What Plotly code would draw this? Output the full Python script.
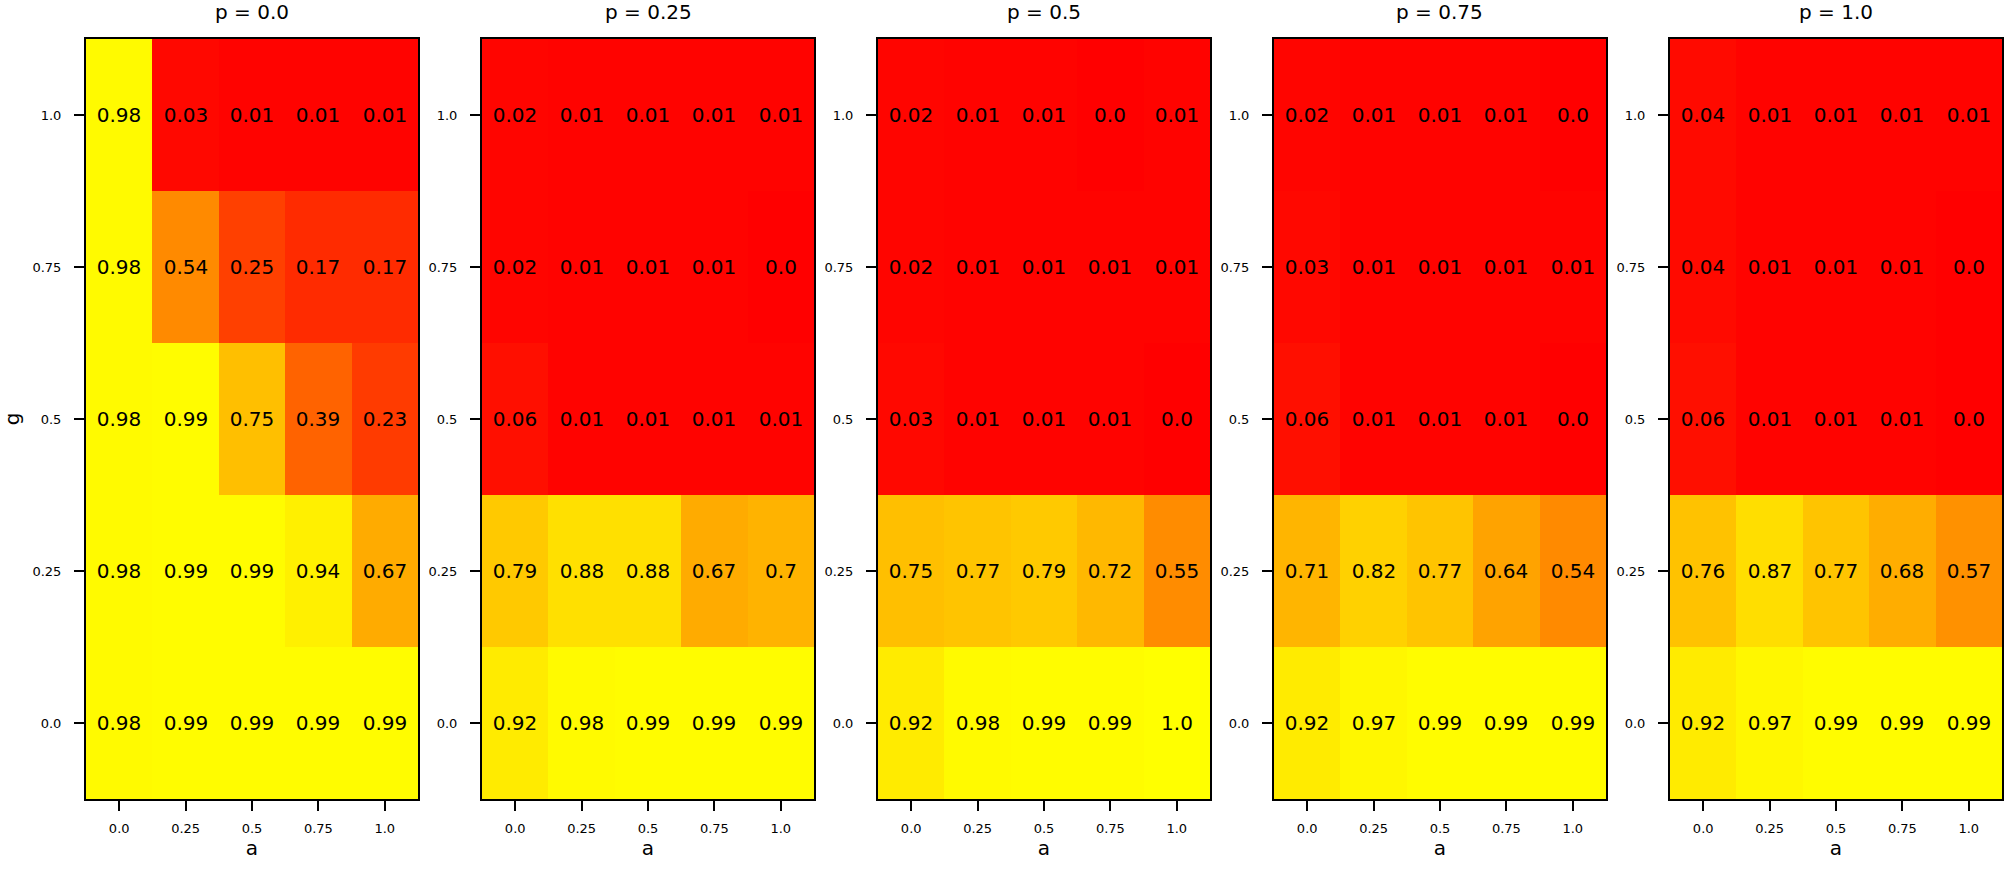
import plotly.graph_objects as go

a_labels = ["0.0", "0.25", "0.5", "0.75", "1.0"]
g_labels = ["0.0", "0.25", "0.5", "0.75", "1.0"]
p_titles = ["p = 0.0", "p = 0.25", "p = 0.5", "p = 0.75", "p = 1.0"]

# rows: g = 0.0, 0.25, 0.5, 0.75, 1.0 (bottom to top); columns: a = 0.0 .. 1.0
p_00 = [
    [0.98, 0.99, 0.99, 0.99, 0.99],
    [0.98, 0.99, 0.99, 0.94, 0.67],
    [0.98, 0.99, 0.75, 0.39, 0.23],
    [0.98, 0.54, 0.25, 0.17, 0.17],
    [0.98, 0.03, 0.01, 0.01, 0.01],
]
p_025 = [
    [0.92, 0.98, 0.99, 0.99, 0.99],
    [0.79, 0.88, 0.88, 0.67, 0.7],
    [0.06, 0.01, 0.01, 0.01, 0.01],
    [0.02, 0.01, 0.01, 0.01, 0.0],
    [0.02, 0.01, 0.01, 0.01, 0.01],
]
p_05 = [
    [0.92, 0.98, 0.99, 0.99, 1.0],
    [0.75, 0.77, 0.79, 0.72, 0.55],
    [0.03, 0.01, 0.01, 0.01, 0.0],
    [0.02, 0.01, 0.01, 0.01, 0.01],
    [0.02, 0.01, 0.01, 0.0, 0.01],
]
p_075 = [
    [0.92, 0.97, 0.99, 0.99, 0.99],
    [0.71, 0.82, 0.77, 0.64, 0.54],
    [0.06, 0.01, 0.01, 0.01, 0.0],
    [0.03, 0.01, 0.01, 0.01, 0.01],
    [0.02, 0.01, 0.01, 0.01, 0.0],
]
p_10 = [
    [0.92, 0.97, 0.99, 0.99, 0.99],
    [0.76, 0.87, 0.77, 0.68, 0.57],
    [0.06, 0.01, 0.01, 0.01, 0.0],
    [0.04, 0.01, 0.01, 0.01, 0.0],
    [0.04, 0.01, 0.01, 0.01, 0.01],
]
panels = [p_00, p_025, p_05, p_075, p_10]

FONT = "DejaVu Sans"
W, H = 2006, 870
ML, MR, MT, MB = 86, 3, 39, 71
PW = W - ML - MR
PH = H - MT - MB
panel_px = 332
step_px = 396

autumn = [[0.0, "rgb(255,0,0)"], [1.0, "rgb(255,255,0)"]]

fig = go.Figure()
idx = list(range(5))
for i, z in enumerate(panels):
    xa = "x" if i == 0 else f"x{i+1}"
    ya = "y" if i == 0 else f"y{i+1}"
    text = [[str(v) for v in row] for row in z]
    fig.add_trace(go.Heatmap(
        z=z, x=idx, y=idx, text=text, texttemplate="%{text}",
        textfont=dict(family=FONT, size=20, color="black"),
        colorscale=autumn, zmin=0, zmax=1, showscale=False,
        xaxis=xa, yaxis=ya, hoverinfo="skip",
    ))
    x0 = (step_px * i) / PW
    x1 = min(1.0, (step_px * i + panel_px) / PW)
    axis_common = dict(
        showline=True, linecolor="black", linewidth=2, mirror=True,
        ticks="outside", ticklen=10, tickwidth=2, tickcolor="black",
        showgrid=False, zeroline=False,
        tickfont=dict(family=FONT, size=13, color="black"),
        range=[-0.5, 4.5], tickvals=idx, automargin=False,
    )
    xkey = "xaxis" if i == 0 else f"xaxis{i+1}"
    ykey = "yaxis" if i == 0 else f"yaxis{i+1}"
    fig.layout[xkey] = dict(
        axis_common, domain=[x0, x1], ticktext=a_labels, anchor=ya,
        title=dict(text="a", font=dict(family=FONT, size=20, color="black"), standoff=6),
        ticklabelstandoff=6,
    )
    ydict = dict(axis_common, domain=[0, 1], ticktext=g_labels, anchor=xa,
                 ticklabelstandoff=10)
    if i == 0:
        ydict["title"] = dict(text="g", font=dict(family=FONT, size=20, color="black"), standoff=12)
    fig.layout[ykey] = ydict
    fig.add_annotation(
        text=p_titles[i], xref="paper", yref="paper",
        x=(x0 + x1) / 2, y=1 + 27 / PH,
        xanchor="center", yanchor="middle", showarrow=False,
        font=dict(family=FONT, size=20, color="black"),
    )

fig.update_layout(
    width=W, height=H,
    margin=dict(l=ML, r=MR, t=MT, b=MB),
    paper_bgcolor="white", plot_bgcolor="white",
    font=dict(family=FONT, color="black"),
)
fig.write_html(
    "out.html",
    config={"displayModeBar": False},
    post_script="document.body.style.margin='0';document.body.style.overflow='hidden';",
)
